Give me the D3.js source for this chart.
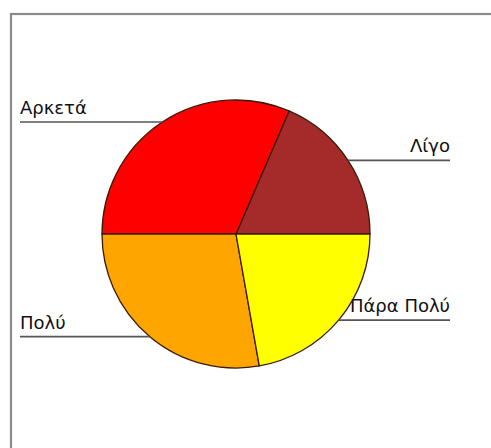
<!DOCTYPE html>
<html>
<head>
<meta charset="utf-8">
<script src="https://cdn.jsdelivr.net/npm/d3@7"></script>
<style>
  html, body { margin: 0; padding: 0; background: #fff; }
  svg { display: block; }
</style>
</head>
<body>
<svg id="chart" width="491" height="448"></svg>
<script>
// Survey answers and their counts
const categories = ["Λίγο", "Αρκετά", "Πολύ", "Πάρα Πολύ"];
const counts = [10, 17, 15, 12];
const colors = ["#a52a2a", "#ff0000", "#ffa500", "#ffff00"];

const W = 491, H = 448;
const cx = 236, cy = 234, R = 134;
const leftX = 20, rightX = 450;

const svg = d3.select("#chart");

// Frame panel (clipped by the window on the right and bottom)
svg.append("rect")
  .attr("x", 11).attr("y", 14)
  .attr("width", W + 20).attr("height", H + 20)
  .attr("fill", "#fff")
  .attr("stroke", "#8a8a8a")
  .attr("stroke-width", 2.2);

const data = categories.map((c, i) => ({ label: c, value: counts[i], color: colors[i] }));

// Slices run counter-clockwise starting at 3 o'clock
const pie = d3.pie()
  .value(d => d.value)
  .sort(null)
  .startAngle(Math.PI / 2)
  .endAngle(Math.PI / 2 - 2 * Math.PI);

const arc = d3.arc().innerRadius(0).outerRadius(R);

const g = svg.append("g").attr("transform", `translate(${cx},${cy})`);
const arcs = pie(data);

g.selectAll("path.slice")
  .data(arcs)
  .join("path")
  .attr("class", "slice")
  .attr("d", arc)
  .attr("fill", d => d.data.color)
  .attr("stroke", "#3a1a0a")
  .attr("stroke-width", 1.3)
  .attr("stroke-linejoin", "round");

// Leader lines: from the slice's mid-point on the rim out to the label column
const labels = svg.append("g");
arcs.forEach(a => {
  const mid = (a.startAngle + a.endAngle) / 2;
  const px = cx + R * Math.sin(mid);
  const py = cy - R * Math.cos(mid);
  const right = Math.sin(mid) > 0;
  const ex = right ? rightX : leftX;
  labels.append("line")
    .attr("x1", px).attr("y1", py)
    .attr("x2", ex).attr("y2", py)
    .attr("stroke", "#555")
    .attr("stroke-width", 1.6);
  labels.append("text")
    .attr("x", ex)
    .attr("y", py - 8)
    .attr("text-anchor", right ? "end" : "start")
    .attr("font-family", "DejaVu Sans, Verdana, sans-serif")
    .attr("font-size", 18)
    .attr("fill", "#111")
    .text(a.data.label);
});
</script>
</body>
</html>
